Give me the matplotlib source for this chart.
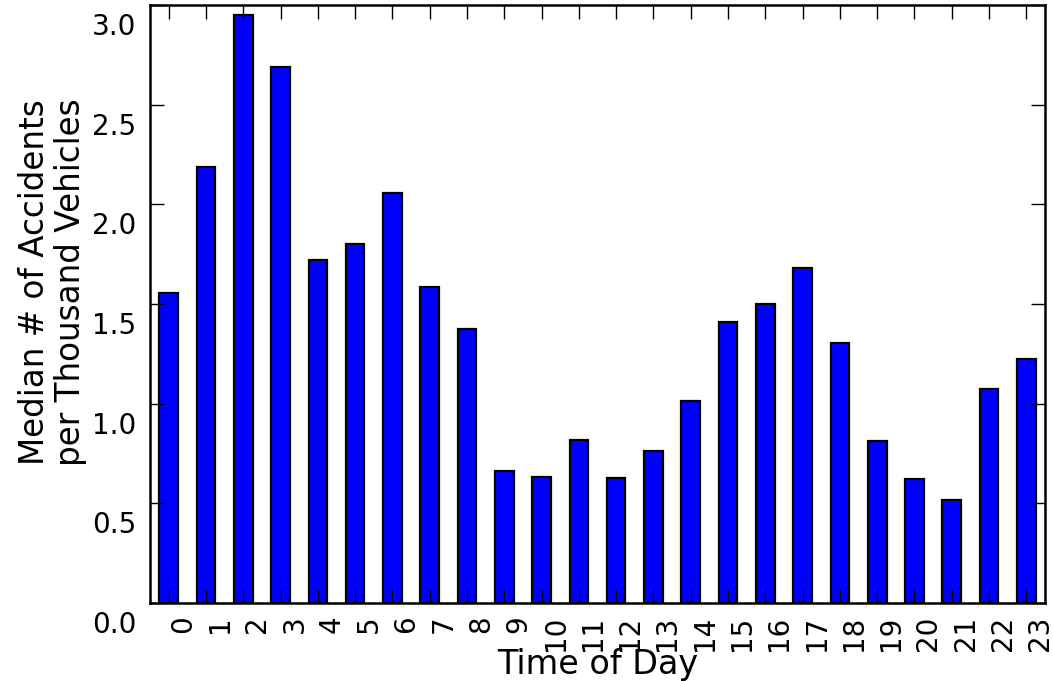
import matplotlib

matplotlib.use("Agg")
import matplotlib.pyplot as plt
import matplotlib.transforms as mtransforms
from matplotlib.ticker import FormatStrFormatter, MultipleLocator

hours = list(range(24))
hour_labels = [str(h) for h in hours]
median_accidents = [
    1.553, 2.185, 2.950, 2.688, 1.719, 1.801, 2.059, 1.584,
    1.376, 0.663, 0.633, 0.818, 0.628, 0.765, 1.015, 1.412,
    1.498, 1.682, 1.305, 0.811, 0.622, 0.516, 1.074, 1.225,
]

plt.rcParams["font.family"] = ["DejaVu Sans"]
plt.rcParams["font.size"] = 20

fig = plt.figure(figsize=(10.53, 6.81), dpi=100)
ax = fig.add_axes([0.1425, 0.1145, 0.8499, 0.8782])

ax.bar(hours, median_accidents, width=0.5, color="#0000ff",
       edgecolor="black", linewidth=1.6)

ax.set_xlim(-0.5, 23.5)
ax.set_ylim(0, 3.0)
ax.set_xticks(hours)
ax.set_xticklabels(hour_labels, rotation=90, ha="left", va="top")
ax.yaxis.set_major_locator(MultipleLocator(0.5))
ax.yaxis.set_major_formatter(FormatStrFormatter("%.1f"))

ax.tick_params(direction="in", length=10, width=1, top=True, right=True,
               labelsize=20)
ax.tick_params(axis="x", pad=9)
ax.tick_params(axis="y", pad=10)

# y labels sit a bit below their tick marks
shift = mtransforms.ScaledTranslation(0, -0.19, fig.dpi_scale_trans)
for lbl in ax.get_yticklabels():
    lbl.set_transform(lbl.get_transform() + shift)

for spine in ax.spines.values():
    spine.set_linewidth(1.8)

ax.set_xlabel("Time of Day", fontsize=24, labelpad=-2)
ax.set_ylabel("Median # of Accidents\nper Thousand Vehicles", fontsize=23.5,
              linespacing=1.15)
ax.yaxis.set_label_coords(-0.07, 0.537)

fig.savefig("out.png", dpi=100)
